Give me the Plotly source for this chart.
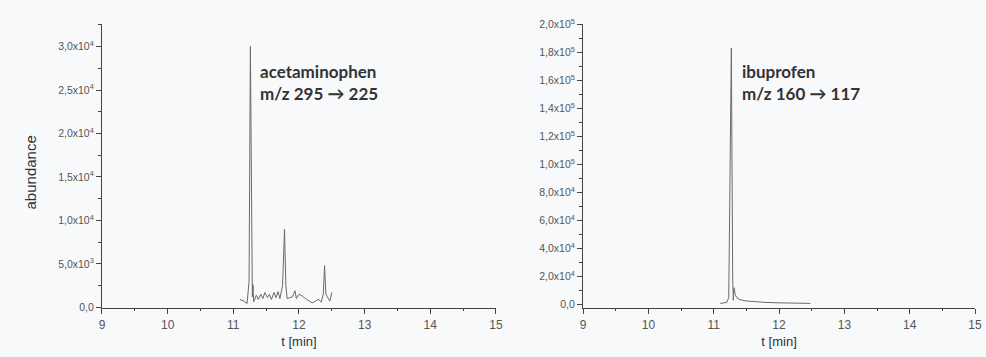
#%% chromatograms: acetaminophen and ibuprofen (MRM traces)
import plotly.graph_objects as go

#%% data
t_acet = [11.10, 11.15, 11.21, 11.24, 11.26, 11.28, 11.29, 11.30, 11.31, 11.35, 11.38, 11.42, 11.45, 11.48,
          11.52, 11.55, 11.58, 11.62, 11.65, 11.68, 11.71, 11.75, 11.78, 11.80, 11.82, 11.86, 11.90, 11.94,
          11.96, 12.00, 12.05, 12.10, 12.15, 12.20, 12.25, 12.30, 12.34, 12.37, 12.39, 12.41, 12.44, 12.47, 12.50]
y_acet = [890, 750, 440, 3000, 30000, 3500, 1200, 2600, 630, 1400, 900, 1500, 1000, 1700,
          1100, 1500, 900, 1700, 1100, 1800, 1000, 2500, 9000, 2500, 1000, 1100, 1200, 1900,
          1000, 1500, 1300, 1000, 700, 500, 700, 900, 600, 1500, 4800, 1500, 1100, 700, 1700]

t_ibu = [11.10, 11.15, 11.20, 11.23, 11.25, 11.27, 11.29, 11.30, 11.31, 11.33, 11.35, 11.40, 11.50,
         11.60, 11.80, 12.00, 12.20, 12.48]
y_ibu = [800, 1000, 1500, 5000, 90000, 183000, 20000, 3000, 12000, 7000, 5000, 3500, 2500,
         2000, 1500, 1200, 1000, 800]

x_ticks = [9, 10, 11, 12, 13, 14, 15]
acet_ticks = [0, 5000, 10000, 15000, 20000, 25000, 30000]
acet_labels = ["0,0", "5,0x10<sup>3</sup>", "1,0x10<sup>4</sup>", "1,5x10<sup>4</sup>",
               "2,0x10<sup>4</sup>", "2,5x10<sup>4</sup>", "3,0x10<sup>4</sup>"]
ibu_ticks = [0, 20000, 40000, 60000, 80000, 100000, 120000, 140000, 160000, 180000, 200000]
ibu_labels = ["0,0", "2,0x10<sup>4</sup>", "4,0x10<sup>4</sup>", "6,0x10<sup>4</sup>", "8,0x10<sup>4</sup>",
              "1,0x10<sup>5</sup>", "1,2x10<sup>5</sup>", "1,4x10<sup>5</sup>", "1,6x10<sup>5</sup>",
              "1,8x10<sup>5</sup>", "2,0x10<sup>5</sup>"]

#%% figure
W, H = 986, 357
line_col = '#6a6a6a'
ax_col = '#444444'
tick_font = dict(family='Liberation Sans, Arial', size=10.5, color='#555555')

fig = go.Figure()
fig.add_trace(go.Scatter(x=t_acet, y=y_acet, mode='lines', line=dict(color=line_col, width=1),
                         xaxis='x', yaxis='y', showlegend=False))
fig.add_trace(go.Scatter(x=t_ibu, y=y_ibu, mode='lines', line=dict(color=line_col, width=1),
                         xaxis='x2', yaxis='y2', showlegend=False))

ydom = [(H - 311.5) / H, (H - 17) / H]
common_x = dict(range=[9, 15], tickvals=x_ticks, ticks='outside', ticklen=5, tickcolor=ax_col,
                showline=True, linecolor=ax_col, linewidth=1.2, showgrid=False, zeroline=False,
                tickfont=dict(family='Liberation Sans, Arial', size=12, color='#555555'),
                minor=dict(tickmode='linear', tick0=9, dtick=0.5, ticks='outside', ticklen=2, tickcolor=ax_col),
                title=dict(text='t [min]', font=dict(family='Liberation Sans, Arial', size=13, color='#333333'),
                           standoff=6))
common_y = dict(ticks='outside', ticklen=5, tickcolor=ax_col, showline=True, linecolor=ax_col,
                linewidth=1.2, showgrid=False, zeroline=False, tickfont=tick_font)

fig.update_layout(
    width=W, height=H,
    margin=dict(l=0, r=0, t=0, b=0),
    paper_bgcolor='#f8f9fb', plot_bgcolor='#f8f9fb',
    xaxis=dict(domain=[100 / W, 498 / W], anchor='y', **common_x),
    xaxis2=dict(domain=[586 / W, 982 / W], anchor='y2', **common_x),
    yaxis=dict(domain=ydom, anchor='x', range=[-100, 32550], tickvals=acet_ticks, ticktext=acet_labels,
               minor=dict(tickmode='linear', tick0=0, dtick=2500, ticks='outside', ticklen=3, tickcolor=ax_col),
               **common_y),
    yaxis2=dict(domain=ydom, anchor='x2', range=[-2600, 200000], tickvals=ibu_ticks, ticktext=ibu_labels,
                minor=dict(tickmode='linear', tick0=0, dtick=10000, ticks='outside', ticklen=3, tickcolor=ax_col),
                **common_y),
)

# y title of the left panel, placed by hand
fig.add_annotation(x=28 / W, y=(H - 171) / H, xref='paper', yref='paper', text='abundance', textangle=-90,
                   showarrow=False, xanchor='center', yanchor='middle',
                   font=dict(family='Liberation Sans, Arial', size=15, color='#333333'))

# labels next to the main peaks
lab_font = dict(family='Lato, Open Sans', size=17, color='#333333')
fig.add_annotation(x=11.37, y=(H - 66) / H, xref='x', yref='paper', text='<b>acetaminophen</b>',
                   showarrow=False, xanchor='left', yanchor='middle', font=lab_font)
fig.add_annotation(x=11.37, y=(H - 89) / H, xref='x', yref='paper', text='<b>m/z 295 → 225</b>',
                   showarrow=False, xanchor='left', yanchor='middle', font=lab_font)
fig.add_annotation(x=11.40, y=(H - 66) / H, xref='x2', yref='paper', text='<b>ibuprofen</b>',
                   showarrow=False, xanchor='left', yanchor='middle', font=lab_font)
fig.add_annotation(x=11.40, y=(H - 89) / H, xref='x2', yref='paper', text='<b>m/z 160 → 117</b>',
                   showarrow=False, xanchor='left', yanchor='middle', font=lab_font)

# drop the page margin so the figure sits at the window corner
fig.write_html("out.html", config={'displayModeBar': False},
               post_script="document.body.style.margin='0';document.body.style.overflow='hidden';")
